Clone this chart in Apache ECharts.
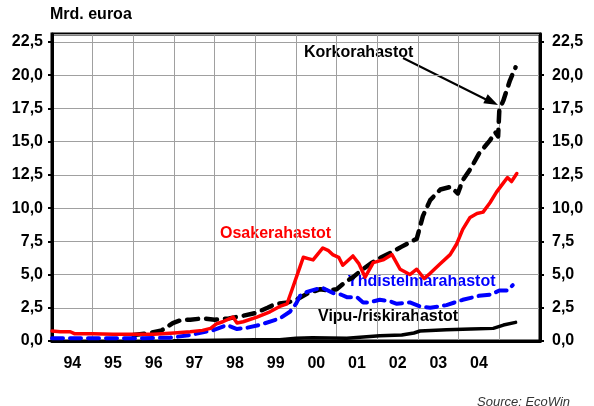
<!DOCTYPE html>
<html>
<head>
<meta charset="utf-8">
<script src="https://cdn.jsdelivr.net/npm/echarts@6/dist/echarts.min.js"></script>
<style>
  html, body { margin: 0; padding: 0; background: #fff; }
  #chart { width: 594px; height: 406px; }
</style>
</head>
<body>
<div id="chart"></div>
<script>
// vuodet (x-akselin tekstit)
const years = ['94', '95', '96', '97', '98', '99', '00', '01', '02', '03', '04', '']

// [vuosi, mrd. euroa]
const korko = [
  [1996.0, 0.45], [1996.4, 0.6], [1996.7, 0.8], [1996.97, 1.35], [1997.2, 1.6], [1997.4, 1.6],
  [1997.7, 1.7], [1998.0, 1.6], [1998.35, 1.7], [1998.7, 1.9], [1999.0, 2.1], [1999.3, 2.5],
  [1999.5, 2.8], [1999.8, 2.9], [2000.0, 3.1], [2000.3, 3.6], [2000.6, 3.9], [2000.8, 3.8],
  [2001.0, 3.9], [2001.2, 4.4], [2001.4, 4.8], [2001.6, 5.3], [2001.87, 5.9], [2002.1, 6.3],
  [2002.3, 6.6], [2002.6, 7.1], [2002.97, 7.7], [2003.12, 9.4], [2003.3, 10.6], [2003.55, 11.4],
  [2003.8, 11.6], [2003.98, 11.1], [2004.1, 12.1], [2004.3, 13.0], [2004.5, 14.1], [2004.77, 15.1],
  [2004.9, 15.7], [2004.97, 15.4], [2005.0, 17.4], [2005.1, 18.1], [2005.26, 19.6], [2005.4, 20.6]
]
const osake = [
  [1994.0, 0.75], [1994.2, 0.7], [1994.45, 0.7], [1994.55, 0.55], [1995.0, 0.55], [1995.5, 0.5],
  [1996.0, 0.5], [1996.5, 0.5], [1997.0, 0.6], [1997.4, 0.7], [1997.7, 0.8], [1997.9, 0.95],
  [1998.05, 1.3], [1998.2, 1.45], [1998.45, 1.8], [1998.55, 1.35], [1998.7, 1.45], [1999.04, 1.8],
  [1999.36, 2.2], [1999.6, 2.6], [1999.78, 2.8], [1999.93, 4.1], [2000.1, 5.6], [2000.18, 6.3],
  [2000.3, 6.2], [2000.42, 6.1], [2000.55, 6.6], [2000.66, 7.0], [2000.8, 6.8], [2000.9, 6.5],
  [2001.05, 6.3], [2001.15, 5.7], [2001.4, 6.4], [2001.55, 5.8], [2001.7, 4.8], [2001.9, 5.9],
  [2002.14, 6.1], [2002.36, 6.5], [2002.56, 5.4], [2002.8, 5.0], [2002.97, 5.4], [2003.15, 4.7],
  [2003.3, 5.1], [2003.54, 5.8], [2003.79, 6.5], [2003.95, 7.3], [2004.1, 8.4], [2004.28, 9.3],
  [2004.45, 9.6], [2004.6, 9.7], [2004.77, 10.4], [2004.93, 11.2], [2005.1, 11.9], [2005.2, 12.3],
  [2005.3, 12.0], [2005.43, 12.6]
]
const yhdistelma = [
  [1994.0, 0.2], [1995.0, 0.2], [1996.0, 0.2], [1996.9, 0.25], [1997.4, 0.45], [1997.95, 0.8],
  [1998.3, 1.2], [1998.55, 0.9], [1998.8, 1.0], [1999.1, 1.2], [1999.4, 1.5], [1999.6, 1.7],
  [1999.85, 2.2], [2000.0, 2.8], [2000.1, 3.4], [2000.27, 3.7], [2000.5, 3.9], [2000.65, 4.0],
  [2000.92, 3.6], [2001.1, 3.5], [2001.25, 3.3], [2001.5, 3.3], [2001.65, 2.9], [2001.8, 2.9],
  [2002.06, 3.1], [2002.3, 3.0], [2002.48, 2.8], [2002.8, 2.9], [2003.05, 2.6], [2003.3, 2.5],
  [2003.7, 2.7], [2004.1, 3.1], [2004.5, 3.4], [2004.8, 3.5], [2005.0, 3.8], [2005.2, 3.8],
  [2005.33, 4.2]
]
const vipu = [
  [1997.0, 0.02], [1998.0, 0.05], [1999.0, 0.1], [1999.6, 0.1], [2000.0, 0.2], [2000.4, 0.25],
  [2001.25, 0.2], [2002.06, 0.4], [2002.6, 0.45], [2002.9, 0.6], [2003.05, 0.75], [2003.7, 0.85],
  [2004.3, 0.9], [2004.85, 0.95], [2005.1, 1.2], [2005.4, 1.4]
]

const FONT = 'Liberation Sans, Arial, sans-serif'
const fmt = v => (Math.abs(v / 2.5 - Math.round(v / 2.5)) < 1e-6 ? v.toFixed(1).replace('.', ',') : '')

const yAxisBase = {
  type: 'value',
  min: 0,
  max: 23.1,
  interval: 2.5,
  axisLine: { show: true, lineStyle: { color: '#000', width: 3 } },
  axisTick: { show: true, length: 4, lineStyle: { color: '#000', width: 2 } },
  axisLabel: { formatter: fmt, showMaxLabel: false, color: '#000', fontFamily: FONT, fontWeight: 'bold', fontSize: 16 },
}

const chart = echarts.init(document.getElementById('chart'))
chart.setOption({
  animation: false,
  grid: {
    left: 52, right: 54, top: 34, bottom: 65,
    show: true, borderColor: '#000', borderWidth: 3,
    outerBoundsMode: 'none'
  },
  xAxis: [
    {
      type: 'category',
      data: years,
      boundaryGap: true,
      axisLine: { lineStyle: { color: '#000', width: 3 } },
      axisTick: { interval: 0, length: 6, lineStyle: { color: '#000', width: 2 } },
      axisLabel: { interval: 0, margin: 15, color: '#000', fontFamily: FONT, fontWeight: 'bold', fontSize: 16 },
      splitLine: { show: true, interval: 0, lineStyle: { color: '#a0a0a0', width: 1 } },
    },
    { type: 'value', min: 1994, max: 2006, show: false },
  ],
  yAxis: [
    Object.assign({}, yAxisBase, {
      position: 'left',
      axisLabel: Object.assign({}, yAxisBase.axisLabel, { margin: 9 }),
      splitLine: { show: true, lineStyle: { color: '#a0a0a0', width: 1 } },
    }),
    Object.assign({}, yAxisBase, {
      position: 'right',
      axisLabel: Object.assign({}, yAxisBase.axisLabel, { margin: 12 }),
      splitLine: { show: false },
    }),
  ],
  series: [
    {
      name: 'Vipu-/riskirahastot', type: 'line', xAxisIndex: 1, yAxisIndex: 0,
      data: vipu, showSymbol: false,
      lineStyle: { color: '#000', width: 3.5, cap: 'round', join: 'round' },
    },
    {
      name: 'Korkorahastot', type: 'line', xAxisIndex: 1, yAxisIndex: 0,
      data: korko, showSymbol: false,
      lineStyle: { color: '#000', width: 4.5, type: [11, 8], cap: 'round', join: 'round' },
    },
    {
      name: 'Yhdistelmärahastot', type: 'line', xAxisIndex: 1, yAxisIndex: 0,
      data: yhdistelma, showSymbol: false,
      lineStyle: { color: '#0000ff', width: 4, type: [11, 7], cap: 'round', join: 'round' },
    },
    {
      name: 'Osakerahastot', type: 'line', xAxisIndex: 1, yAxisIndex: 0,
      data: osake, showSymbol: false,
      lineStyle: { color: '#ff0000', width: 3.5, cap: 'round', join: 'round' },
    },
  ],
  graphic: [
    { type: 'text', left: 50, top: 7, style: { text: 'Mrd. euroa', fill: '#000', font: 'bold 16px ' + FONT } },
    { type: 'text', left: 304, top: 45, style: { text: 'Korkorahastot', fill: '#000', font: 'bold 16px ' + FONT } },
    { type: 'text', left: 220, top: 226, style: { text: 'Osakerahastot', fill: '#ff0000', font: 'bold 16px ' + FONT } },
    { type: 'text', left: 347, top: 274, style: { text: 'Yhdistelmärahastot', fill: '#0000ff', font: 'bold 16px ' + FONT } },
    { type: 'text', left: 318, top: 309, style: { text: 'Vipu-/riskirahastot', fill: '#000', font: 'bold 16px ' + FONT } },
    { type: 'text', left: 477, top: 396, style: { text: 'Source: EcoWin', fill: '#333', font: 'italic 13px ' + FONT } },
    { type: 'line', shape: { x1: 403, y1: 58, x2: 487, y2: 100 }, style: { stroke: '#000', lineWidth: 2 } },
    { type: 'polygon', shape: { points: [[498, 105], [483.3, 103.3], [487.7, 94.3]] }, style: { fill: '#000' } },
  ],
})
</script>
</body>
</html>
